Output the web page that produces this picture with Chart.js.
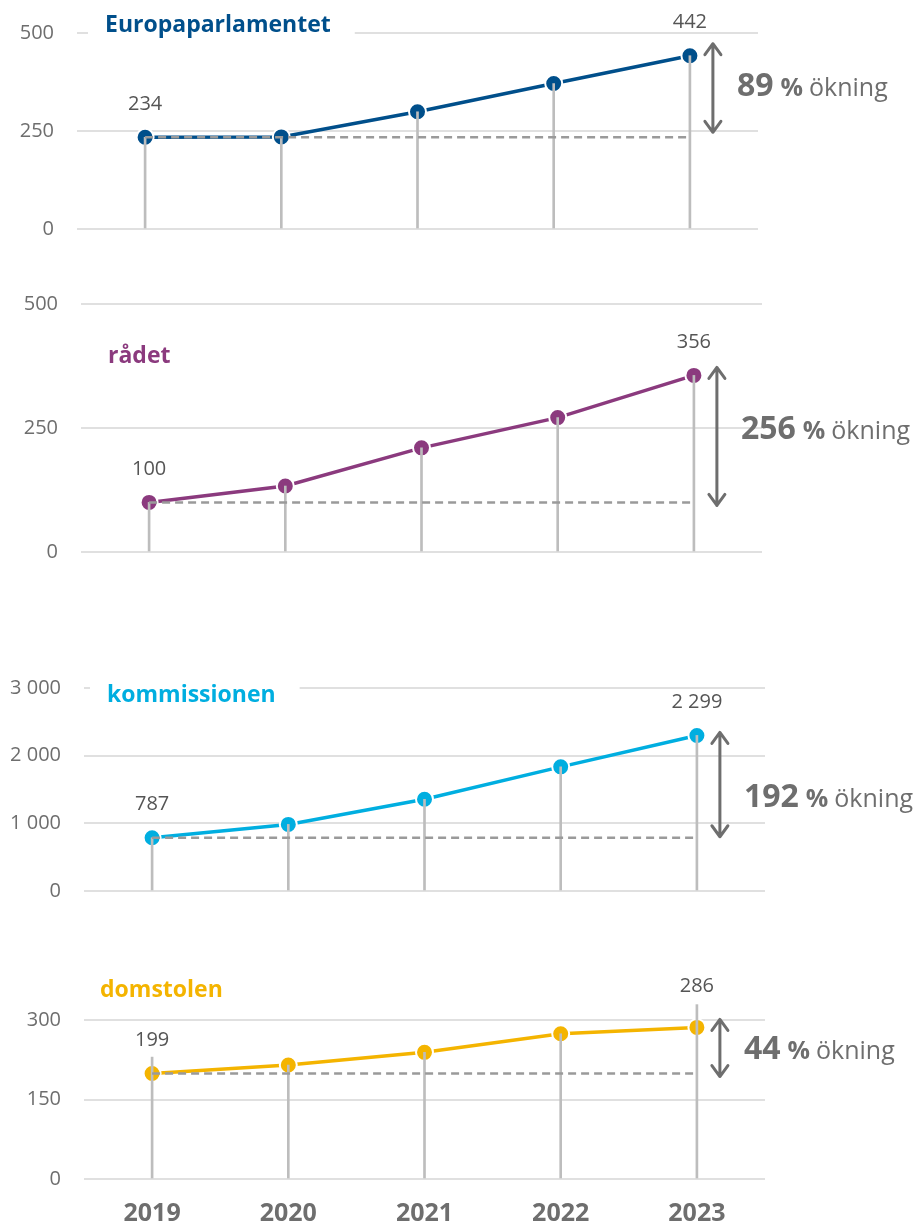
<!DOCTYPE html>
<html>
<head>
<meta charset="utf-8">
<script src="https://cdn.jsdelivr.net/npm/chart.js@4.4.1/dist/chart.umd.min.js"></script>
<style>
  body { margin: 0; background: #fff; overflow: hidden; }
  #wrap { position: relative; width: 923px; height: 1227px; overflow: hidden; }
  canvas { position: absolute; left: 0; }
</style>
</head>
<body>
<div id="wrap"></div>
<script>
const years = ['2019', '2020', '2021', '2022', '2023'];

const parlamentValues = [234, 235, 299, 371, 442];
const radetValues = [100, 133, 210, 271, 356];
const kommissionenValues = [787, 984, 1355, 1835, 2299];
const domstolenValues = [199, 215, 239, 274, 286];
// grey stems; for domstolen the first and last reach up towards the labels
const domstolenStems = [230, 215, 239, 274, 329];

const parlamentTicks = [0, 250, 500];
const radetTicks = [0, 250, 500];
const kommissionenTicks = [0, 1000, 2000, 3000];
const domstolenTicks = [0, 150, 300];

const FONT = "'Open Sans', 'Noto Sans', sans-serif";
const GREY = '#6e6e6e';

function fmt(v) {
    return String(v).replace(/\B(?=(\d{3})+(?!\d))/g, ' ');
}

// page positions (px) of each small chart
const panels = [
    { name: 'Europaparlamentet', color: '#004f8b', values: parlamentValues, stems: parlamentValues,
      ticks: parlamentTicks, top: -15, height: 290, plotTop: 33, plotBottom: 229, left: 77, right: 758,
      titleX: 105, titleY: 32, arrow: [-12, -5], pctDy: 4, lastDy: -33 },
    { name: 'rådet', color: '#8b3a7e', values: radetValues, stems: radetValues,
      ticks: radetTicks, top: 255, height: 345, plotTop: 304, plotBottom: 552, left: 81, right: 762,
      titleX: 108, titleY: 363, arrow: [-8, 3], pctDy: -1, lastDy: -33 },
    { name: 'kommissionen', color: '#00aee0', values: kommissionenValues, stems: kommissionenValues,
      ticks: kommissionenTicks, top: 630, height: 310, plotTop: 688, plotBottom: 891, left: 84, right: 765,
      titleX: 107, titleY: 702, arrow: [-3, -1], pctDy: 18, lastDy: -33 },
    { name: 'domstolen', color: '#f4b400', values: domstolenValues, stems: domstolenStems,
      ticks: domstolenTicks, top: 940, height: 287, plotTop: 1020, plotBottom: 1179, left: 84, right: 765,
      titleX: 100, titleY: 997, arrow: [-8, 3], pctDy: 7, lastDy: -41, showYears: true }
];

function makePlugin(p) {
    return {
        id: 'panel',
        beforeDatasetsDraw(chart) {
            const ctx = chart.ctx;
            const ty = p.titleY - p.top;
            ctx.save();
            ctx.font = `bold 23px ${FONT}`;
            const w = ctx.measureText(p.name).width;
            ctx.fillStyle = '#fff';
            ctx.fillRect(p.titleX - 17, ty - 20, w + 41, 28);
            ctx.fillStyle = p.color;
            ctx.textBaseline = 'alphabetic';
            ctx.fillText(p.name, p.titleX, ty);
            ctx.restore();
        },
        afterDatasetsDraw(chart) {
            const ctx = chart.ctx;
            const x = chart.scales.x, y = chart.scales.y;
            const pts = chart.getDatasetMeta(1).data;
            const first = p.values[0], last = p.values[p.values.length - 1];
            const y0 = y.getPixelForValue(first);
            const x0 = x.getPixelForValue(0);
            const x1 = x.getPixelForValue(p.values.length - 1);

            ctx.save();
            // dashed baseline at first year's level
            ctx.strokeStyle = '#9a9a9a';
            ctx.lineWidth = 2.5;
            ctx.setLineDash([8, 5]);
            ctx.beginPath();
            ctx.moveTo(x0, y0);
            ctx.lineTo(x1, y0);
            ctx.stroke();
            ctx.setLineDash([]);

            // first and last value labels
            ctx.fillStyle = '#555';
            ctx.font = `20px ${FONT}`;
            ctx.textAlign = 'center';
            ctx.textBaseline = 'middle';
            ctx.fillText(fmt(first), pts[0].x, pts[0].y - 33);
            ctx.fillText(fmt(last), pts[pts.length - 1].x, pts[pts.length - 1].y + p.lastDy);

            // double arrow
            const ax = x1 + 23;
            const top = y.getPixelForValue(last) + p.arrow[0];
            const bot = y0 + p.arrow[1];
            ctx.strokeStyle = GREY;
            ctx.lineWidth = 3;
            ctx.lineCap = 'round';
            ctx.lineJoin = 'round';
            ctx.beginPath();
            ctx.moveTo(ax, top);
            ctx.lineTo(ax, bot);
            ctx.moveTo(ax - 8, top + 11);
            ctx.lineTo(ax, top);
            ctx.lineTo(ax + 8, top + 11);
            ctx.moveTo(ax - 8, bot - 11);
            ctx.lineTo(ax, bot);
            ctx.lineTo(ax + 8, bot - 11);
            ctx.stroke();

            // percent increase text
            const pct = Math.round((last - first) / first * 100);
            const ty = (top + bot) / 2 + p.pctDy + 4;
            let tx = ax + 24;
            ctx.textAlign = 'left';
            ctx.textBaseline = 'alphabetic';
            ctx.fillStyle = GREY;
            ctx.font = `bold 32px ${FONT}`;
            ctx.fillText(String(pct), tx, ty);
            tx += ctx.measureText(String(pct)).width + 7;
            ctx.font = `bold 25px ${FONT}`;
            ctx.fillText('%', tx, ty);
            tx += ctx.measureText('%').width + 6;
            ctx.font = `25px ${FONT}`;
            ctx.fillText('ökning', tx, ty);
            ctx.restore();
        }
    };
}

const wrap = document.getElementById('wrap');

panels.forEach(p => {
    const el = document.createElement('canvas');
    el.width = 923;
    el.height = p.height;
    el.style.top = p.top + 'px';
    wrap.appendChild(el);

    const xh = p.showYears ? 48 : 0;
    const padTop = p.plotTop - p.top;
    const padBottom = p.top + p.height - p.plotBottom - xh;

    const chart = new Chart(el, {
        type: 'bar',
        data: {
            labels: years,
            datasets: [
                {
                    type: 'bar',
                    data: p.stems,
                    backgroundColor: '#bdbdbd',
                    barThickness: 2,
                    order: 0,
                    clip: false
                },
                {
                    type: 'line',
                    data: p.values,
                    borderColor: p.color,
                    borderWidth: 3.5,
                    tension: 0,
                    pointRadius: 8.5,
                    pointHoverRadius: 8.5,
                    pointBackgroundColor: p.color,
                    pointBorderColor: '#fff',
                    pointBorderWidth: 2,
                    order: 1,
                    clip: false
                }
            ]
        },
        options: {
            responsive: false,
            animation: false,
            layout: { padding: { top: padTop, bottom: padBottom, left: 0, right: 923 - p.right } },
            plugins: { legend: { display: false }, tooltip: { enabled: false } },
            scales: {
                x: {
                    display: !!p.showYears,
                    offset: true,
                    grid: { display: false, drawTicks: false },
                    border: { display: false },
                    ticks: { color: GREY, padding: 20, font: { family: FONT, size: 25, weight: 'bold' } },
                    afterFit: s => { s.height = xh; }
                },
                y: {
                    min: 0,
                    max: p.ticks[p.ticks.length - 1],
                    afterBuildTicks: s => { s.ticks = p.ticks.map(v => ({ value: v })); },
                    grid: { color: '#e0e0e0', lineWidth: 2, drawTicks: false },
                    border: { display: false },
                    ticks: { color: GREY, padding: 23, font: { family: FONT, size: 20 }, callback: v => fmt(v) },
                    afterFit: s => { s.width = p.left; }
                }
            }
        },
        plugins: [makePlugin(p)]
    });

    // nudge padding if the layout didn't land where wanted
    const ca = chart.chartArea;
    const dTop = (p.plotTop - p.top) - ca.top;
    const dBot = ca.bottom - (p.plotBottom - p.top);
    if (Math.abs(dTop) > 0.5 || Math.abs(dBot) > 0.5) {
        chart.options.layout.padding = { top: padTop + dTop, bottom: padBottom + dBot, left: 0, right: 923 - p.right };
        chart.update();
    }
});
</script>
</body>
</html>
